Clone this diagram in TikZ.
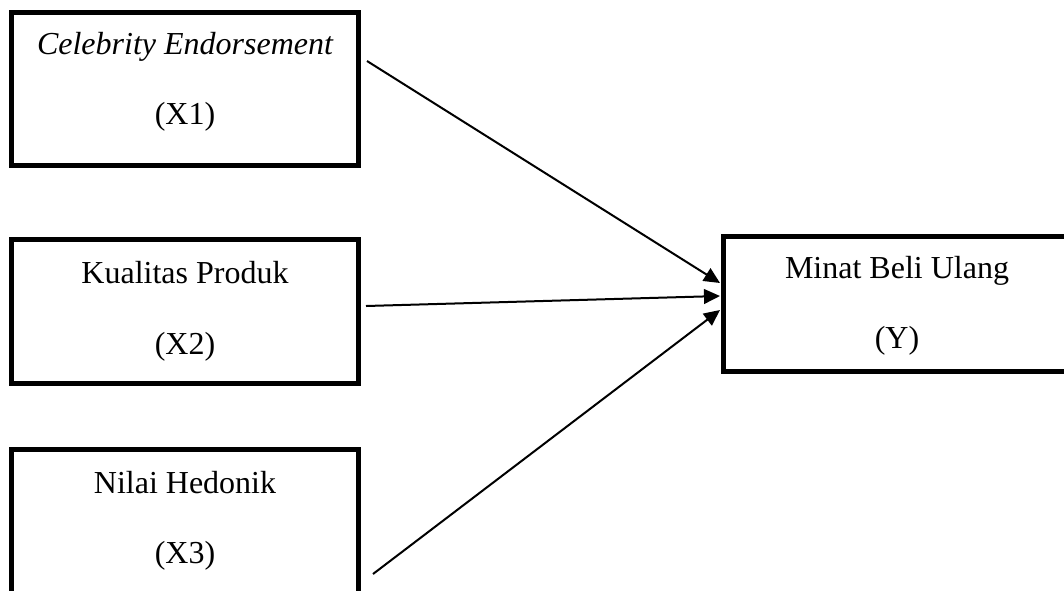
\documentclass[tikz,border=0pt]{standalone}
\usepackage{fontspec}
\setmainfont{Liberation Serif}
\usetikzlibrary{arrows.meta}
\begin{document}
\begin{tikzpicture}[x=0.75pt,y=-0.75pt,
  box/.style={draw=black,line width=3.5pt,rectangle,inner sep=0pt},
  txt/.style={anchor=base,inner sep=0pt,font=\fontsize{24}{28}\selectfont},
  link/.style={line width=1.5pt,-{Triangle[length=12pt,width=11pt]}}]
\useasboundingbox (0,0) rectangle (1064,590);
\fill[white] (0,0) rectangle (1064,590);
\node[box,minimum width=347*0.75pt,minimum height=153*0.75pt] (x1) at (185,89) {};
\node[box,minimum width=347*0.75pt,minimum height=144*0.75pt] (x2) at (185,311.5) {};
\node[box,minimum width=347*0.75pt,minimum height=145*0.75pt] (x3) at (185,522) {};
\node[box,minimum width=347*0.75pt,minimum height=135*0.75pt] (y) at (897,304) {};
\node[txt] (x1a) at (185,54) {\itshape Celebrity Endorsement};
\node[txt] (x1b) at (185,124) {(X1)};
\node[txt] (x2a) at (185,283) {Kualitas Produk};
\node[txt] (x2b) at (185,354) {(X2)};
\node[txt] (x3a) at (185,493) {Nilai Hedonik};
\node[txt] (x3b) at (185,563) {(X3)};
\node[txt] (ya) at (897,278) {Minat Beli Ulang};
\node[txt] (yb) at (897,348) {(Y)};
\coordinate (s1) at (367,61);
\coordinate (s2) at (366,306);
\coordinate (s3) at (373,574);
\coordinate (e1) at (720,283);
\coordinate (e2) at (720,296);
\coordinate (e3) at (720,310);
\draw[link] (s1) -- (e1);
\draw[link] (s2) -- (e2);
\draw[link] (s3) -- (e3);
\end{tikzpicture}
\end{document}
